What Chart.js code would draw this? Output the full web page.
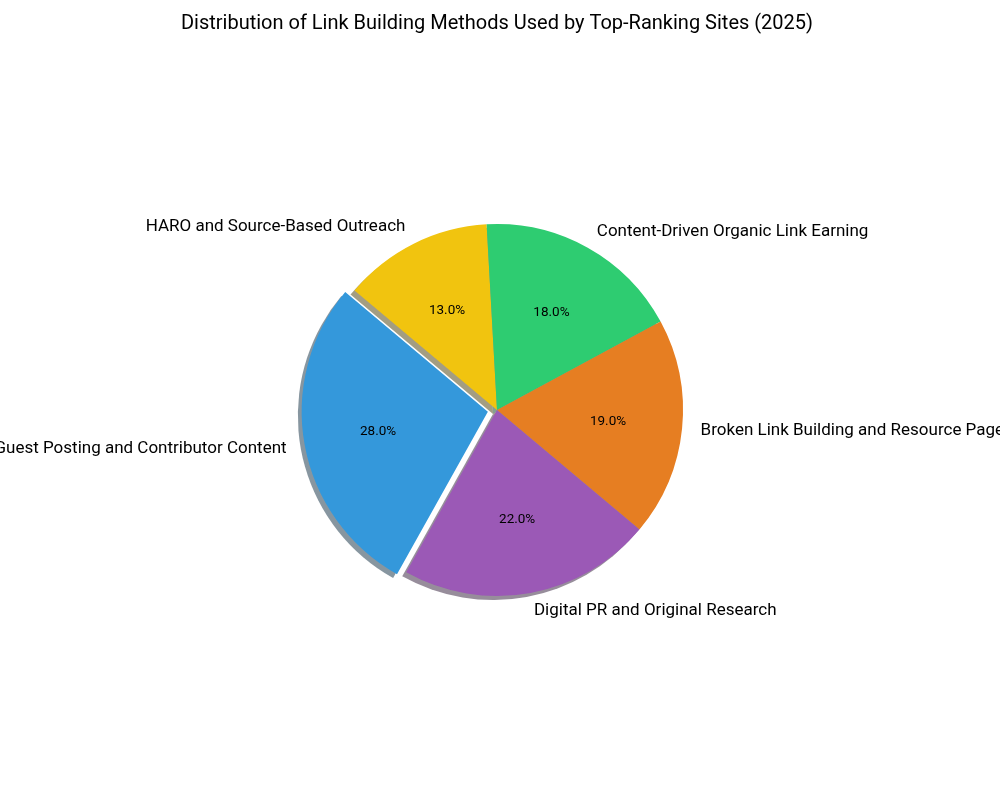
<!DOCTYPE html>
<html>
<head>
<meta charset="utf-8">
<script src="https://cdn.jsdelivr.net/npm/chart.js@4.4.1/dist/chart.umd.min.js"></script>
<style>
  html, body { margin: 0; padding: 0; background: #ffffff; }
  #wrap { width: 1000px; height: 800px; }
</style>
</head>
<body>
<div id="wrap"><canvas id="c" width="1000" height="800"></canvas></div>
<script>
// Data (matplotlib order, counter-clockwise from 140°)
const categories = [
  'Guest Posting and Contributor Content',
  'Digital PR and Original Research',
  'Broken Link Building and Resource Pages',
  'Content-Driven Organic Link Earning',
  'HARO and Source-Based Outreach'
];
const shares = [28, 22, 19, 18, 13];
const sliceColors = ['#3498db', '#9b59b6', '#e67e22', '#2ecc71', '#f1c40f'];
const explodeFlags = [1, 0, 0, 0, 0];
const titleText = 'Distribution of Link Building Methods Used by Top-Ranking Sites (2025)';

// Chart.js draws clockwise, so reverse to mimic counter-clockwise layout
const labelsCW = categories.slice().reverse();
const valuesCW = shares.slice().reverse();
const colorsCW = sliceColors.slice().reverse();
const explodeCW = explodeFlags.slice().reverse();

const RADIUS = 186;
const EXPLODE_PX = 0.05 * RADIUS;
const FONT = 'Roboto, "Open Sans", "DejaVu Sans", sans-serif';

function shadowColor(hex) {
  const r = parseInt(hex.slice(1, 3), 16), g = parseInt(hex.slice(3, 5), 16), b = parseInt(hex.slice(5, 7), 16);
  return 'rgba(' + Math.round(r * 0.3) + ',' + Math.round(g * 0.3) + ',' + Math.round(b * 0.3) + ',0.5)';
}

const shadowPlugin = {
  id: 'pieShadow',
  beforeDatasetsDraw(chart) {
    const ctx = chart.ctx;
    const meta = chart.getDatasetMeta(0);
    meta.data.forEach((arc, i) => {
      const mid = (arc.startAngle + arc.endAngle) / 2;
      const off = explodeCW[i] ? EXPLODE_PX : 0;
      const cx = arc.x + Math.cos(mid) * off - 4;
      const cy = arc.y + Math.sin(mid) * off + 4;
      ctx.save();
      ctx.beginPath();
      ctx.moveTo(cx, cy);
      ctx.arc(cx, cy, arc.outerRadius, arc.startAngle, arc.endAngle);
      ctx.closePath();
      ctx.fillStyle = shadowColor(colorsCW[i]);
      ctx.fill();
      ctx.restore();
    });
  }
};

const labelPlugin = {
  id: 'pieLabels',
  afterDatasetsDraw(chart) {
    const ctx = chart.ctx;
    const meta = chart.getDatasetMeta(0);
    const total = valuesCW.reduce((a, b) => a + b, 0);
    meta.data.forEach((arc, i) => {
      const mid = (arc.startAngle + arc.endAngle) / 2;
      const off = explodeCW[i] ? EXPLODE_PX : 0;
      const cx = arc.x + Math.cos(mid) * off;
      const cy = arc.y + Math.sin(mid) * off;
      const r = arc.outerRadius;
      ctx.save();
      ctx.fillStyle = '#000000';
      ctx.textBaseline = 'middle';
      // outer label
      const lx = cx + Math.cos(mid) * r * 1.1;
      const ly = cy + Math.sin(mid) * r * 1.1;
      ctx.font = '17px ' + FONT;
      ctx.textAlign = Math.cos(mid) < 0 ? 'right' : 'left';
      ctx.fillText(labelsCW[i], lx, ly);
      // percent label
      const px = cx + Math.cos(mid) * r * 0.6;
      const py = cy + Math.sin(mid) * r * 0.6;
      ctx.font = '13.5px ' + FONT;
      ctx.textAlign = 'center';
      ctx.fillText((valuesCW[i] / total * 100).toFixed(1) + '%', px, py);
      ctx.restore();
    });
  }
};

new Chart(document.getElementById('c'), {
  type: 'pie',
  data: {
    labels: labelsCW,
    datasets: [{
      data: valuesCW,
      backgroundColor: colorsCW,
      borderWidth: 0,
      offset: explodeCW.map(e => e * EXPLODE_PX * 4),
      hoverOffset: 0
    }]
  },
  options: {
    responsive: false,
    animation: false,
    events: [],
    rotation: -50,
    radius: RADIUS,
    layout: { padding: { top: 0, left: 0, right: 6, bottom: 26 } },
    plugins: {
      legend: { display: false },
      tooltip: { enabled: false },
      title: {
        display: true,
        text: titleText,
        color: '#000000',
        font: { family: FONT, size: 20, weight: 'normal' },
        padding: { top: 12, bottom: 10 }
      }
    }
  },
  plugins: [shadowPlugin, labelPlugin]
});
</script>
</body>
</html>
